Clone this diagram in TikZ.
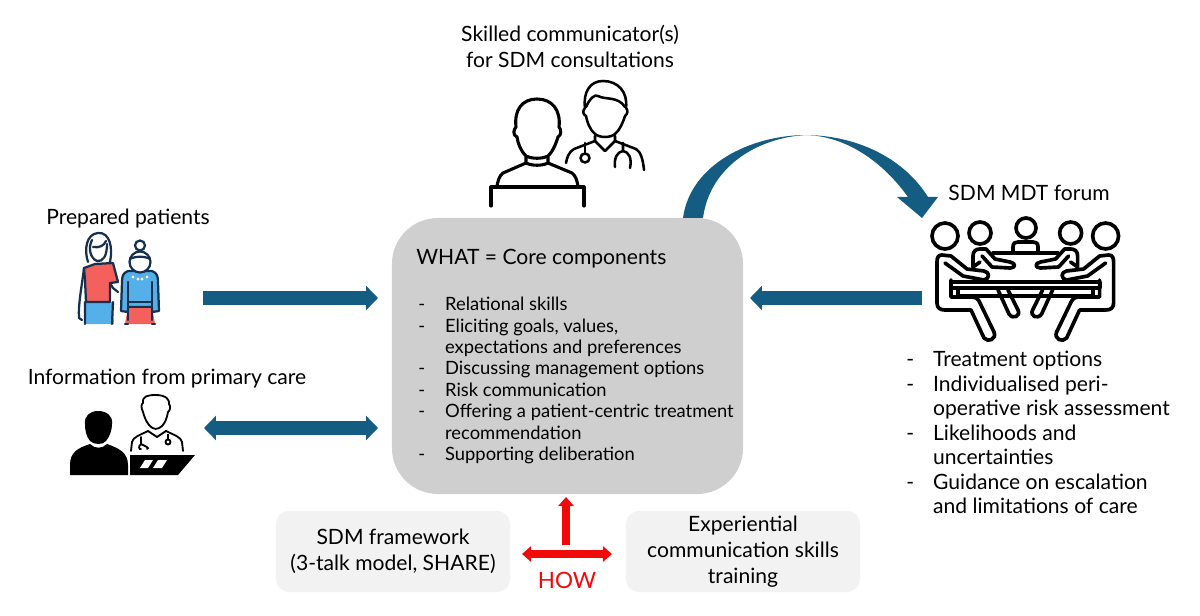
\documentclass[tikz,border=0pt]{standalone}
\usepackage{fontspec}
\setmainfont{Lato}
\usetikzlibrary{arrows.meta,positioning,calc}
\definecolor{flowblue}{HTML}{145C82}
\definecolor{howred}{HTML}{F00A0A}
\definecolor{coregrey}{HTML}{CFCFCF}
\definecolor{trainbox}{HTML}{F2F2F2}
\definecolor{ptblue}{HTML}{55B0EA}
\definecolor{ptred}{HTML}{F4605C}
\definecolor{ptline}{HTML}{16304F}
\newcommand{\dashitem}{\makebox[19.1pt][l]{-}}
\newcommand{\dashgap}{\hspace*{19.1pt}}

\begin{document}
\begin{tikzpicture}[
    x=0.025cm, y=-0.025cm,
    label/.style={align=center, font=\fontsize{15}{18.5}\selectfont, inner sep=0pt},
    listtext/.style={align=left, anchor=north west, inner sep=0pt},
    core/.style={rectangle, fill=coregrey, rounded corners=1.15cm, minimum width=8.775cm, minimum height=6.9cm},
    train/.style={rectangle, fill=trainbox, rounded corners=0.32cm, minimum width=5.85cm, minimum height=2.025cm, align=center, font=\fontsize{15}{18.5}\selectfont},
    flow/.style={line width=10pt, flowblue, -{Triangle[width=17pt,length=8.5pt]}},
    flowboth/.style={line width=10pt, flowblue, {Triangle[width=17pt,length=8.5pt]}-{Triangle[width=17pt,length=8.5pt]}},
    how/.style={line width=5pt, howred, -{Triangle[width=11pt,length=6.5pt]}},
    howboth/.style={line width=5pt, howred, {Triangle[width=11pt,length=6.5pt]}-{Triangle[width=11pt,length=6.5pt]}},
    icon/.style={draw=black, line width=2.2pt, line cap=round, line join=round},
    thinicon/.style={draw=black, line width=1.8pt, line cap=round, line join=round},
    patient/.style={draw=ptline, line width=1.6pt, line join=round, line cap=round},
    mdticon/.style={draw=black, line width=2.6pt, line cap=round, line join=round},
    mdtside/.pic={
        \draw[mdticon] (945,236) circle (13);
        \draw[mdticon] (980,233) circle (11);
        % outer person
        \draw[mdticon] (945,263) -- (963,276) -- (984,280) .. controls (990,279) and (990,272) .. (984,271) -- (967,269) -- (951,256) -- (942,255) .. controls (938,255) and (937,258) .. (937,262) -- (937,303) .. controls (937,308) and (940,310) .. (945,310) -- (971,310) -- (984,338) .. controls (988,343) and (997,339) .. (994,332) -- (979,301) .. controls (977,298) and (975,297) .. (972,297) -- (951,297) -- (951,280);
        % inner person
        \draw[mdticon] (973,267) -- (973,256) .. controls (973,251) and (976,249) .. (980,249) -- (986,249) -- (995,259) -- (1010,262) .. controls (1016,263) and (1016,268) .. (1010,268) -- (992,267) -- (982,256);
        \draw[mdticon] (973,267) -- (980,262);
        \draw[mdticon] (998,290) -- (1009,314) .. controls (1013,320) and (1021,316) .. (1018,310) -- (1008,290);
    }
]

\useasboundingbox (0,0) rectangle (1200,616);

% Core components
\node[core] (what) at (567.5,356) {};
\node[font=\fontsize{15}{18}\selectfont, anchor=west, inner sep=0pt] (whattitle) at (416,259) {WHAT = Core components};
\node[listtext, font=\fontsize{13.05}{15.2}\selectfont] (whatlist) at (418,297) {
    \dashitem Relational skills\\
    \dashitem Eliciting goals, values,\\
    \dashgap expectations and preferences\\
    \dashitem Discussing management options\\
    \dashitem Risk communication\\
    \dashitem Offering a patient-centric treatment\\
    \dashgap recommendation\\
    \dashitem Supporting deliberation
};

% Labels
\node[label] (skilled) at (570,46) {Skilled communicator(s)\\for SDM consultations};
\node[label] (prepared) at (128,219) {Prepared patients};
\node[label] (primary) at (167,379) {Information from primary care};
\node[label] (forum) at (1029,193) {SDM MDT forum};

% Forum list
\node[listtext, font=\fontsize{15}{17.4}\selectfont] (forumlist) at (906,351) {
    \dashitem Treatment options\\
    \dashitem Individualised peri-\\
    \dashgap operative risk assessment\\
    \dashitem Likelihoods and\\
    \dashgap uncertainties\\
    \dashitem Guidance on escalation\\
    \dashgap and limitations of care
};

% HOW boxes
\node[train] (framework) at (393,551.5) {SDM framework\\(3-talk model, SHARE)};
\node[train] (training) at (743,551.5) {Experiential\\communication skills\\training};
\node[font=\fontsize{16}{18}\selectfont, text=howred, inner sep=0pt] (howlabel) at (567,580) {HOW};

% Free ends of the arrows
\coordinate (patout) at (203,298);
\coordinate (patin) at (378,298);
\coordinate (careout) at (204,428);
\coordinate (carein) at (378,428);
\coordinate (forumout) at (922,298);
\coordinate (forumin) at (750,298);
\coordinate (howup) at (566,545);
\coordinate (howtop) at (566,497);
\coordinate (howleft) at (522,554);
\coordinate (howright) at (612,554);

% Arrows
\draw[flow] (patout) -- (patin);
\draw[flowboth] (careout) -- (carein);
\draw[flow] (forumout) -- (forumin);
\draw[how] (howup) -- (howtop);
\draw[howboth] (howleft) -- (howright);

% Curved arrow to forum
\fill[flowblue] (683,218) .. controls (690,165) and (750,135) .. (807,135) .. controls (860,136) and (905,160) .. (928,197) -- (938,197) -- (922,218) -- (897,197) -- (908,197) .. controls (885,165) and (850,137) .. (807,135) .. controls (760,137) and (710,165) .. (703,218) -- cycle;

% Skilled communicators icon
\draw[icon] (526,156) .. controls (520,150) and (518,143) .. (517,137) .. controls (512,135) and (514,129) .. (516,127) .. controls (514,110) and (522,99) .. (537,99) .. controls (552,99) and (561,110) .. (559,127) .. controls (561,129) and (562,135) .. (558,137) .. controls (556,143) and (554,150) .. (548,156) .. controls (542,159) and (532,159) .. (526,156) -- cycle;
\draw[icon] (526,157) -- (526,163) .. controls (532,166) and (542,166) .. (548,163) -- (548,157);
\draw[icon] (526,163) -- (503,173) .. controls (499,176) and (498,181) .. (497,186);
\draw[icon] (548,163) -- (572,173) .. controls (576,176) and (577,181) .. (578,186);
\draw[icon] (491,206) -- (491,187) -- (584,187) -- (584,206);
\draw[thinicon] (595,134) .. controls (590,130) and (587,122) .. (586,116) .. controls (582,114) and (583,110) .. (585,108) .. controls (583,92) and (590,81) .. (603,81) .. controls (618,81) and (628,92) .. (626,108) .. controls (628,110) and (628,114) .. (625,116) .. controls (623,122) and (620,130) .. (615,134) .. controls (610,138) and (600,138) .. (595,134) -- cycle;
\draw[thinicon] (586,107) .. controls (590,98) and (595,94) .. (598,96) .. controls (605,100) and (618,96) .. (625,107);
\draw[thinicon] (595,136) -- (595,141) -- (605,151) -- (615,141) -- (615,136);
\draw[thinicon] (595,141) -- (574,149) .. controls (569,152) and (567,157) .. (566,163);
\draw[thinicon] (615,141) -- (636,149) .. controls (641,152) and (643,160) .. (644,170);
\draw[thinicon] (585,143) -- (585,153);
\draw[thinicon] (585,158) circle (4.5);
\draw[thinicon] (623,143) -- (623,151) .. controls (617,152) and (614,158) .. (615,167);
\draw[thinicon] (623,151) .. controls (629,152) and (632,158) .. (630,168);

% Prepared patients icon
\fill[ptblue] (85,302) -- (112,302) -- (114,324) -- (85,324) -- cycle;
\draw[patient, fill=ptred] (85,280) -- (84,268) -- (95,264) -- (113,263) -- (118,282) -- (110,283) -- (110,302) -- (86,302) -- cycle;
\draw[patient] (85,324) -- (85,302) (112,324) -- (113,302);
\draw[patient] (84,268) .. controls (82,285) and (78,305) .. (79,318) -- (82,320);
\draw[patient] (110,283) -- (113,288) -- (118,292);
\draw[patient] (88,262) .. controls (84,250) and (86,234) .. (98,233) .. controls (110,232) and (113,248) .. (110,262);
\draw[patient] (92,240) .. controls (88,248) and (90,258) .. (97,261) .. controls (103,262) and (107,256) .. (107,244);
\draw[patient] (93,247) .. controls (99,248) and (104,246) .. (106,241);
\draw[patient, fill=ptblue] (128,271) .. controls (123,273) and (122,276) .. (122,282) -- (121,311) -- (128,312) -- (128,307) -- (152,307) -- (152,312) -- (159,311) -- (158,282) .. controls (158,276) and (157,273) .. (152,271) -- cycle;
\fill[ptred] (128,307) -- (152,307) -- (155,324) -- (125,324) -- cycle;
\draw[patient] (128,282) -- (128,320) (152,282) -- (152,320) (128,302) -- (152,302) (128,307) -- (152,307);
\draw[patient] (128,324) -- (125,324) (155,324) -- (152,324);
\draw[patient, fill=white] (140,262) circle (10.5);
\draw[patient] (140,245.5) circle (5);
\draw[patient] (130,259) .. controls (135,256) and (145,256) .. (150,259);
\foreach \dotx/\doty in {133/277,138/279,142/279,147/277}
    \fill[white] (\dotx,\doty) circle (1.6);

% Primary care icon
\fill[black] (90,441) .. controls (86,436) and (85,430) .. (85,424) .. controls (84,416) and (90,411) .. (98,411) .. controls (107,411) and (113,416) .. (112,424) .. controls (112,430) and (110,436) .. (106,441) .. controls (103,445) and (94,445) .. (90,441) -- cycle;
\fill[black] (90,444) .. controls (78,448) and (70,452) .. (70,465) -- (70,475) -- (128,475) -- (128,465) .. controls (128,452) and (118,448) .. (107,444) .. controls (102,449) and (95,449) .. (90,444) -- cycle;
\fill[black] (130,455) -- (195,455) -- (178,475) -- (130,475) -- cycle;
\fill[white] (140,468) -- (145,460) -- (153,460) -- (148,468) -- cycle;
\fill[white] (153,468) -- (158,460) -- (167,460) -- (162,468) -- cycle;
\draw[black, line width=1.3pt, line cap=round, line join=round] (149,425) .. controls (145,420) and (144,415) .. (143,412) .. controls (141,408) and (141,404) .. (143,403) .. controls (142,396) and (148,395) .. (156,395) .. controls (166,395) and (170,400) .. (169,404) .. controls (171,406) and (170,411) .. (168,412) .. controls (167,418) and (165,423) .. (162,426) .. controls (158,430) and (153,430) .. (149,425) -- cycle;
\draw[black, line width=1.3pt, line cap=round, line join=round] (131,451) -- (132,442) .. controls (133,437) and (140,435) .. (148,431) -- (157,437) -- (166,431) .. controls (174,435) and (181,437) .. (182,442) -- (183,451);
\draw[black, line width=1.3pt, line cap=round] (141,437) -- (141,444) .. controls (138,446) and (139,450) .. (141,449) (141,444) .. controls (145,446) and (150,448) .. (147,449);
\draw[black, line width=1.3pt] (168,442) circle (2.5);
\draw[black, line width=1.3pt] (168,434) -- (168,439);

% MDT forum icon
\pic at (0,0) {mdtside};
\pic[xscale=-1] at (2050.6,0) {mdtside};
\draw[mdticon] (1026,228) circle (10);
\draw[mdticon] (1013,253) -- (1013,247) .. controls (1013,243) and (1015,242) .. (1018,242) -- (1033,242) .. controls (1036,242) and (1038,243) .. (1038,247) -- (1038,253);
\draw[mdticon] (993,253) -- (1058,253);
\draw[mdticon] (951,282) -- (1100,282) -- (1100,288) -- (951,288) -- cycle;
\draw[mdticon] (958,289) -- (958,296) -- (1093,296) -- (1093,289);

\end{tikzpicture}
\end{document}
